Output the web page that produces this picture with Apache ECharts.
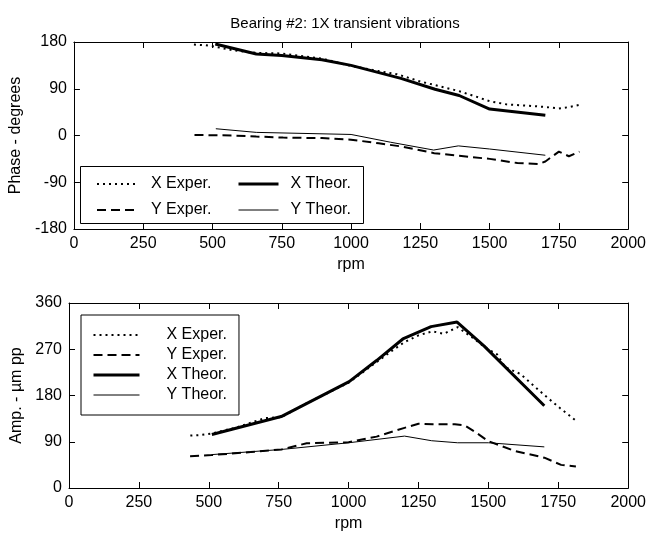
<!DOCTYPE html>
<html>
<head>
<meta charset="utf-8">
<script src="https://cdn.jsdelivr.net/npm/echarts@6/dist/echarts.min.js"></script>
<style>html,body{margin:0;padding:0;background:#fff}#c{width:649px;height:533px}</style>
</head>
<body>
<div id="c"></div>
<script>
// ---- data ----
var xTicks = [0, 250, 500, 750, 1000, 1250, 1500, 1750, 2000];
var phaseTicks = [-180, -90, 0, 90, 180];
var ampTicks = [0, 90, 180, 270, 360];

var phaseXExper = [[433,175],[470,174],[500,172],[574,164],[658,159],[750,158],[895,148],[1000,134],[1100,124],[1165,118],[1250,104],[1303,97],[1386,86],[1450,75],[1500,66],[1560,60],[1650,57],[1700,55],[1750,52],[1790,55],[1824,59]];
var phaseXTheor = [[510,176],[658,157],[750,154],[895,146],[1000,135],[1180,110],[1303,89],[1390,77],[1500,51],[1701,39]];
var phaseYExper = [[435,1],[574,0],[658,-2],[755,-4],[895,-5],[1000,-8],[1100,-15],[1180,-21],[1300,-34],[1386,-39],[1500,-45],[1600,-53],[1676,-55],[1701,-50],[1750,-31],[1786,-40],[1824,-31]];
var phaseYTheor = [[512,13],[658,6],[1000,2],[1143,-13],[1298,-28],[1387,-20],[1500,-26],[1701,-38]];

var ampXExper = [[434,102],[470,103],[510,106],[600,118],[700,136],[760,138],[850,165],[900,178],[1000,205],[1100,245],[1150,265],[1200,284],[1250,297],[1300,305],[1340,300],[1390,313],[1450,290],[1490,273],[1531,260],[1560,235],[1614,222],[1700,181],[1757,155],[1813,131]];
var ampXTheor = [[511,104],[759,139],[1002,207],[1100,248],[1194,290],[1295,314],[1388,323],[1485,276],[1700,160]];
var ampYExper = [[433,62],[510,64],[650,70],[760,75],[850,87],[1000,89],[1100,100],[1200,117],[1250,125],[1300,124],[1380,124],[1415,122],[1450,110],[1500,91],[1594,72],[1700,59],[1760,45],[1813,42]];
var ampYTheor = [[511,65],[760,75],[1000,88],[1200,101],[1297,92],[1390,88],[1500,88],[1700,80]];

var names = ['X Exper.', 'X Theor.', 'Y Exper.', 'Y Theor.'];

// ---- styles ----
var FONT = 'Liberation Sans, Arial, Helvetica, sans-serif';
var styles = {
  'X Exper.': {color:'#000', width:2, type:[2,4]},
  'X Theor.': {color:'#000', width:3, type:'solid'},
  'Y Exper.': {color:'#000', width:2, type:[9,5]},
  'Y Theor.': {color:'#000', width:1, type:'solid'}
};

function xAx(grid, pos, show) {
  return {
    type:'value', gridIndex:grid, position:pos, min:0, max:2000, interval:250,
    axisLine:{show:true, onZero:false, lineStyle:{color:'#000', width:1}},
    axisTick:{show:true, inside:true, length:6, lineStyle:{color:'#000'}},
    axisLabel:{show:show, color:'#000', fontSize:16, fontFamily:FONT, margin:7,
      formatter:function(v){return xTicks.indexOf(v)>=0 ? String(v) : '';}},
    splitLine:{show:false},
    name: show ? 'rpm' : '', nameLocation:'middle', nameGap:28,
    nameTextStyle:{color:'#000', fontSize:16, fontFamily:FONT}
  };
}
function yAx(grid, pos, show, mn, mx, ticks, nm) {
  return {
    type:'value', gridIndex:grid, position:pos, min:mn, max:mx, interval:90,
    axisLine:{show:true, onZero:false, lineStyle:{color:'#000', width:1}},
    axisTick:{show:true, inside:true, length:6, lineStyle:{color:'#000'}},
    axisLabel:{show:show, color:'#000', fontSize:16, fontFamily:FONT, margin:7,
      formatter:function(v){return ticks.indexOf(v)>=0 ? String(v) : '';}},
    splitLine:{show:false},
    name: show ? nm : '', nameLocation:'middle', nameGap:40,
    nameTextStyle:{color:'#000', fontSize:16, fontFamily:FONT}
  };
}
function ser(name, data, xi, yi) {
  var s = styles[name];
  return {
    name:name, type:'line', data:data, xAxisIndex:xi, yAxisIndex:yi,
    symbol:'none', smooth:false, color:s.color,
    lineStyle:{color:s.color, width:s.width, type:s.type}
  };
}
function legData(list) {
  return list.map(function(n){
    var s = styles[n];
    return {name:n, lineStyle:{color:s.color, width:s.width, type:s.type}};
  });
}
var legText = {color:'#000', fontSize:16, fontFamily:FONT, lineHeight:16, height:16};
var legItem = {opacity:0, color:'rgba(0,0,0,0)', borderWidth:0};

var option = {
  animation:false,
  backgroundColor:'#fff',
  textStyle:{fontFamily:FONT},
  title:{text:'Bearing #2: 1X transient vibrations', left:340, top:11, textAlign:'center',
    textStyle:{color:'#000', fontSize:15, fontWeight:'normal', fontFamily:FONT}},
  grid:[
    {left:69, top:42, width:561, height:187},
    {left:69, top:303, width:561, height:188}
  ],
  xAxis:[ xAx(0,'bottom',true), xAx(0,'top',false), xAx(1,'bottom',true), xAx(1,'top',false) ],
  yAxis:[
    yAx(0,'left',true,-180,180,phaseTicks,'Phase - degrees'),
    yAx(0,'right',false,-180,180,phaseTicks,''),
    yAx(1,'left',true,0,360,ampTicks,'Amp. - µm pp'),
    yAx(1,'right',false,0,360,ampTicks,'')
  ],
  legend:[
    {data:legData(['X Exper.','Y Exper.']), orient:'vertical', left:96, top:176, padding:0, itemGap:10,
      itemWidth:40, itemHeight:14, itemStyle:legItem, textStyle:Object.assign({padding:[0,0,0,9]}, legText)},
    {data:legData(['X Theor.','Y Theor.']), orient:'vertical', left:237, top:176, padding:0, itemGap:10,
      itemWidth:40, itemHeight:14, itemStyle:legItem, textStyle:Object.assign({padding:[0,0,0,7]}, legText)},
    {data:legData(['X Exper.','Y Exper.','X Theor.','Y Theor.']), orient:'vertical', left:81, top:315,
      padding:[12,12,12,11], itemGap:4, itemWidth:46, itemHeight:14, itemStyle:legItem,
      backgroundColor:'#fff', borderColor:'#000', borderWidth:1,
      textStyle:Object.assign({padding:[0,0,0,22]}, legText)}
  ],
  graphic:[
    {type:'rect', z:3, shape:{x:80.5, y:166.5, width:283, height:57},
     style:{fill:'#fff', stroke:'#000', lineWidth:1}}
  ],
  series:[
    ser('X Exper.', phaseXExper, 0, 0),
    ser('X Theor.', phaseXTheor, 0, 0),
    ser('Y Exper.', phaseYExper, 0, 0),
    ser('Y Theor.', phaseYTheor, 0, 0),
    ser('X Exper.', ampXExper, 2, 2),
    ser('Y Exper.', ampYExper, 2, 2),
    ser('X Theor.', ampXTheor, 2, 2),
    ser('Y Theor.', ampYTheor, 2, 2)
  ]
};
var chart = echarts.init(document.getElementById('c'), null, {renderer:'canvas'});
chart.setOption(option);
</script>
</body>
</html>
